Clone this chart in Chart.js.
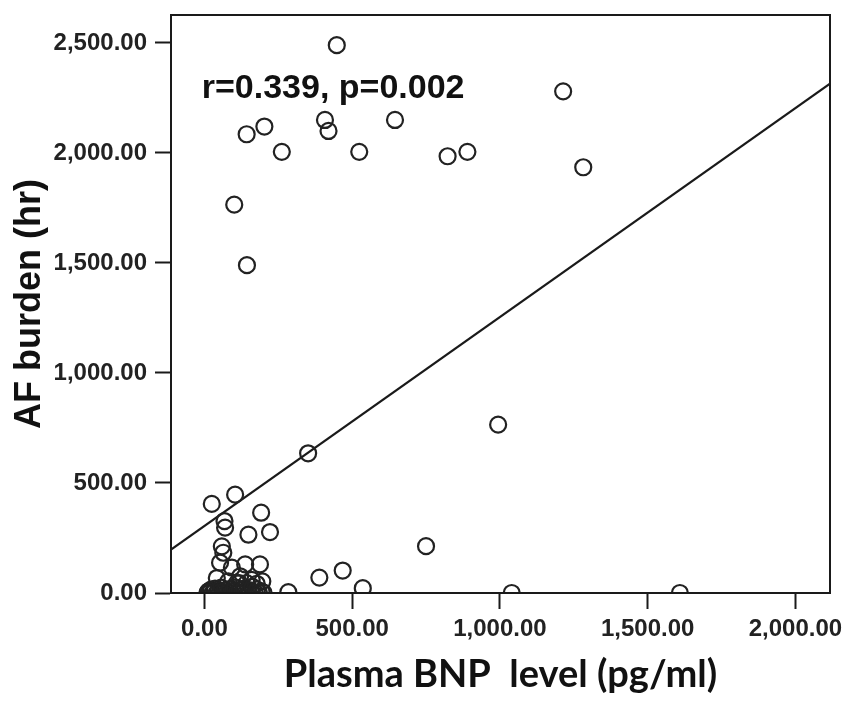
<!DOCTYPE html>
<html><head><meta charset="utf-8">
<script src="https://cdn.jsdelivr.net/npm/chart.js@4/dist/chart.umd.min.js"></script>
<style>html,body{margin:0;padding:0;background:#fff;}canvas{display:block;}</style>
</head><body>
<canvas id="c" width="850" height="707"></canvas>
<script>
// ---- data ----
const bnpLevel = [448,1214,143,203,408,420,645,262,524,823,890,1282,101,144,994,351,750,389,468,536,1040,1609,284,
  25,104,192,68,70,149,222,59,64,53,93,138,188,42,121,160,196,81,118,110,143,177,
  10,14,18,22,27,33,36,41,47,52,57,63,70,76,84,90,97,104,111,119,127,134,141,149,156,163,170,178,185,193,200];
const afBurden = [2490,2280,2085,2120,2150,2100,2150,2005,2005,1985,2005,1935,1765,1490,765,635,213,70,102,22,0,0,4,
  405,447,365,327,297,265,277,212,183,138,115,130,130,68,76,60,53,53,45,45,45,42,
  0,8,2,15,0,6,20,0,10,3,24,0,12,4,18,0,8,26,2,14,0,20,5,0,12,28,3,16,0,7,2];
const fitX = [-113, 2117];
const fitY = [197, 2315];
const xRange = [-113, 2117];
const yRange = [0, 2627];
const xTicks = [0, 500, 1000, 1500, 2000];
const xTickLabels = ['0.00', '500.00', '1,000.00', '1,500.00', '2,000.00'];
const yTicks = [0, 500, 1000, 1500, 2000, 2500];
const yTickLabels = ['0.00', '500.00', '1,000.00', '1,500.00', '2,000.00', '2,500.00'];
const xTitle = 'Plasma BNP  level (pg/ml)';
const yTitle = 'AF burden (hr)';
const annotationText = 'r=0.339, p=0.002';
const annotationAt = [-9, 2251];

const ink = '#1a1a1a';
const tickFont = {family: '"Liberation Sans", Arial, sans-serif', size: 24, weight: 'bold'};

const framePlugin = {
  id: 'frame',
  afterDraw(chart) {
    const {ctx, chartArea: a} = chart;
    ctx.save();
    ctx.strokeStyle = ink;
    ctx.lineWidth = 2;
    ctx.strokeRect(a.left, a.top, a.right - a.left, a.bottom - a.top);
    ctx.restore();
  }
};
const annotationPlugin = {
  id: 'annot',
  afterDatasetsDraw(chart) {
    const {ctx, scales} = chart;
    ctx.save();
    ctx.font = 'bold 34px "Liberation Sans", Arial, sans-serif';
    ctx.fillStyle = '#111';
    ctx.textAlign = 'left';
    ctx.textBaseline = 'alphabetic';
    ctx.fillText(annotationText, scales.x.getPixelForValue(annotationAt[0]), scales.y.getPixelForValue(annotationAt[1]));
    ctx.restore();
  }
};

new Chart(document.getElementById('c'), {
  type: 'scatter',
  data: {
    datasets: [
      {
        data: bnpLevel.map((x, i) => ({x, y: afBurden[i]})),
        showLine: false,
        pointStyle: 'circle',
        pointRadius: 8,
        pointBorderWidth: 2.2,
        pointBorderColor: '#222',
        pointBackgroundColor: 'rgba(0,0,0,0)',
        clip: 0
      },
      {
        data: fitX.map((x, i) => ({x, y: fitY[i]})),
        showLine: true,
        pointRadius: 0,
        borderWidth: 2.2,
        borderColor: ink,
        clip: 0
      }
    ]
  },
  options: {
    responsive: false,
    animation: false,
    devicePixelRatio: 1,
    layout: {padding: {top: 15, right: 20, left: 0, bottom: 0}},
    plugins: {legend: {display: false}, tooltip: {enabled: false}},
    scales: {
      x: {
        type: 'linear', min: xRange[0], max: xRange[1],
        afterBuildTicks: s => { s.ticks = xTicks.map(v => ({value: v})); },
        afterFit: s => { s.height = 114; s.paddingLeft = 0; s.paddingRight = 0; },
        grid: {display: true, drawOnChartArea: false, drawTicks: true, tickLength: 16, tickWidth: 2, tickColor: ink},
        border: {display: true, width: 2, color: ink},
        ticks: {
          callback: v => { const i = xTicks.indexOf(v); return i >= 0 ? xTickLabels[i] : ''; },
          font: tickFont, color: '#222', padding: 6, maxRotation: 0, autoSkip: false
        },
        title: {display: true, text: xTitle, color: '#111',
          font: {family: 'Lato, "Open Sans", sans-serif', size: 38, weight: 'bold'},
          padding: {top: 0, bottom: 9}}
      },
      y: {
        type: 'linear', min: yRange[0], max: yRange[1],
        afterBuildTicks: s => { s.ticks = yTicks.map(v => ({value: v})); },
        afterFit: s => { s.width = 171; s.paddingTop = 0; s.paddingBottom = 0; },
        grid: {display: true, drawOnChartArea: false, drawTicks: true, tickLength: 16, tickWidth: 2, tickColor: ink},
        border: {display: true, width: 2, color: ink},
        ticks: {
          callback: v => { const i = yTicks.indexOf(v); return i >= 0 ? yTickLabels[i] : ''; },
          font: tickFont, color: '#222', padding: 8, autoSkip: false
        },
        title: {display: true, text: yTitle, color: '#111',
          font: {family: '"Liberation Sans", Arial, sans-serif', size: 36, weight: 'bold'},
          padding: {top: 8, bottom: 0}}
      }
    }
  },
  plugins: [framePlugin, annotationPlugin]
});
</script>
</body></html>
